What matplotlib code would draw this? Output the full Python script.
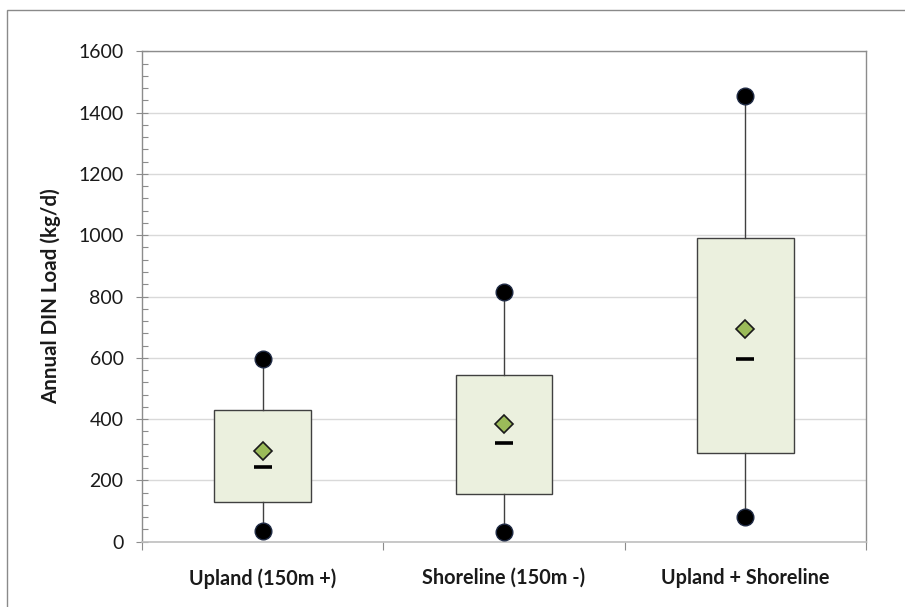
import matplotlib

matplotlib.use("Agg")
import matplotlib.pyplot as plt
from matplotlib.patches import Rectangle
from matplotlib.ticker import MultipleLocator, FixedLocator

plt.rcParams["font.family"] = ["Lato", "DejaVu Sans"]

# Values (kg/d)
categories = ["Upland (150m +)", "Shoreline (150m -)", "Upland + Shoreline"]
minimums = [35, 33, 82]
q1_values = [130, 155, 290]
medians = [245, 321, 596]
means = [295, 384, 695]
q3_values = [430, 543, 992]
maximums = [597, 815, 1454]
y_ticks = [0, 200, 400, 600, 800, 1000, 1200, 1400, 1600]

BOX_FILL = "#EBF0DE"
BOX_EDGE = "#404040"
MEAN_GREEN = "#9BBB59"
AXIS_GRAY = "#8C8C8C"
GRID_GRAY = "#D9D9D9"
TEXT = "#1A1A1A"

fig = plt.figure(figsize=(9.05, 6.07), dpi=100)
ax = fig.add_axes([142 / 905, 1 - 541.7 / 607, 724 / 905, 490.4 / 607])

# chart area border (Excel style), cut off at right and bottom
fig.patches.append(
    Rectangle(
        (7 / 905, -0.1), 2, (607 - 9.5) / 607 + 0.1,
        transform=fig.transFigure, fill=False, edgecolor="#8A8A8A", linewidth=1.0,
    )
)

positions = list(range(1, len(categories) + 1))
stats = [
    {"whislo": lo, "q1": q1, "med": med, "q3": q3, "whishi": hi, "mean": mn, "fliers": []}
    for lo, q1, med, q3, hi, mn in zip(minimums, q1_values, medians, q3_values, maximums, means)
]
ax.bxp(
    stats,
    positions=positions,
    widths=0.40,
    patch_artist=True,
    showcaps=False,
    showmeans=False,
    boxprops=dict(facecolor=BOX_FILL, edgecolor=BOX_EDGE, linewidth=1.0),
    whiskerprops=dict(color=BOX_EDGE, linewidth=1.0),
    medianprops=dict(visible=False),
    zorder=3,
)

# whisker end points
ax.plot(positions, minimums, "o", color="black", markeredgecolor="#1F2A44",
        markersize=12, zorder=5, linestyle="none")
ax.plot(positions, maximums, "o", color="black", markeredgecolor="#1F2A44",
        markersize=12, zorder=5, linestyle="none")
# mean
ax.plot(positions, means, "D", color=MEAN_GREEN, markeredgecolor=TEXT,
        markersize=9.3, markeredgewidth=1.2, zorder=5, linestyle="none")
# median dash
ax.plot(positions, medians, "_", color="black", markersize=13,
        markeredgewidth=2.6, zorder=5, linestyle="none")

ax.set_xlim(0.5, len(categories) + 0.5)
ax.set_ylim(0, 1600)

ax.yaxis.set_major_locator(FixedLocator(y_ticks))
ax.yaxis.set_minor_locator(MultipleLocator(40))
ax.tick_params(axis="y", which="major", direction="inout", length=8.5,
               width=0.8, color=AXIS_GRAY, labelsize=14, pad=9, labelcolor=TEXT)
ax.tick_params(axis="y", which="minor", direction="in", length=4,
               width=0.8, color=AXIS_GRAY)

ax.set_xticks(positions)
ax.set_xticklabels(categories, fontsize=14.3, fontweight="bold", color=TEXT)
ax.xaxis.set_minor_locator(FixedLocator([p - 0.5 for p in positions] + [positions[-1] + 0.5]))
ax.tick_params(axis="x", which="major", length=0, pad=19)
ax.tick_params(axis="x", which="minor", direction="out", length=5.5,
               width=0.8, color=AXIS_GRAY)

ax.set_ylabel("Annual DIN Load (kg/d)", fontsize=14.8, fontweight="bold",
              color=TEXT, labelpad=12)

ax.grid(True, axis="y", color=GRID_GRAY, linewidth=1.0, zorder=0)
ax.set_axisbelow(True)

for side in ("left", "right", "top"):
    ax.spines[side].set_color(AXIS_GRAY)
    ax.spines[side].set_linewidth(1.0)
ax.spines["bottom"].set_color("#BFBFBF")
ax.spines["bottom"].set_linewidth(1.2)

fig.savefig("out.png", dpi=100)
